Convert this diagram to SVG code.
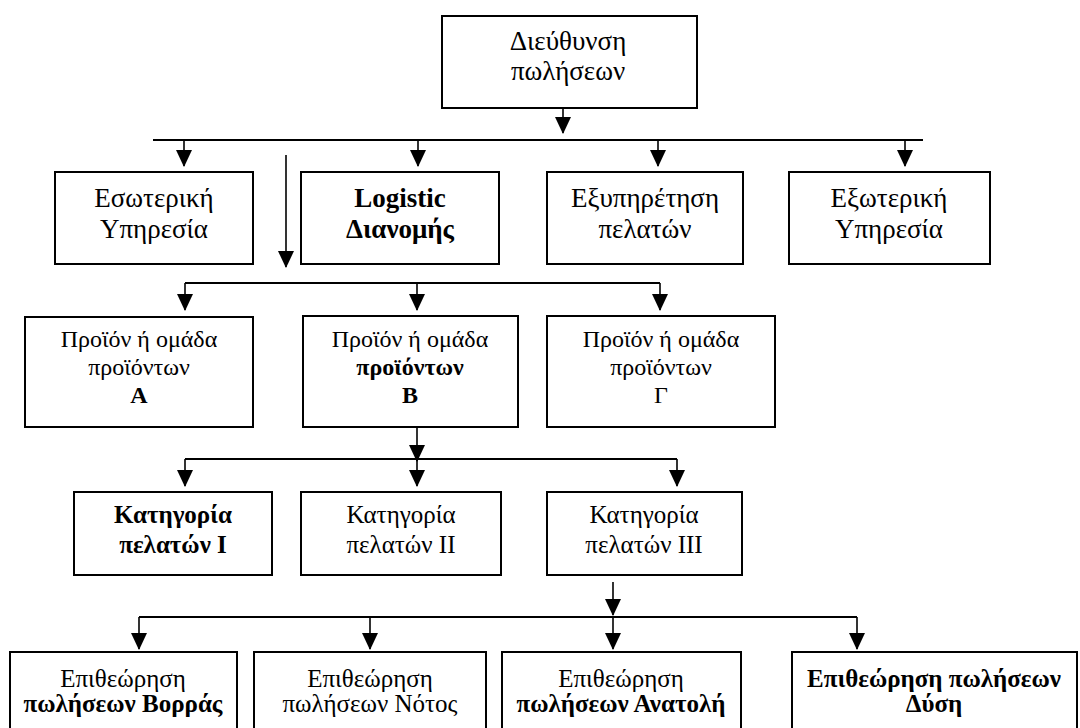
<svg xmlns="http://www.w3.org/2000/svg" width="1080" height="728" viewBox="0 0 1080 728">
<style>
.box{fill:#fff;stroke:#000;stroke-width:2}
.t{font-family:"Liberation Serif","DejaVu Serif",serif;fill:#000;text-anchor:middle}
.s27{font-size:27px}.s25{font-size:25px}.s24{font-size:24px}
.b{font-weight:bold}
.ln{fill:none;stroke:#000;stroke-width:1.8}
.ar{fill:none;stroke:#000;stroke-width:1.6;marker-end:url(#ah)}
</style>
<defs>
<marker id="ah" markerUnits="userSpaceOnUse" markerWidth="17" markerHeight="16" viewBox="0 0 17 16" refX="16" refY="8" orient="auto">
<path d="M0,0 L17,8 L0,16 z" fill="#000"/>
</marker>
</defs>
<rect width="1080" height="728" fill="#fff"/>
<g id="connectors">
<line class="ar" x1="563" y1="108" x2="563" y2="133"/>
<line class="ln" x1="153" y1="140" x2="923" y2="140"/>
<line class="ar" x1="184" y1="140" x2="184" y2="166"/>
<line class="ar" x1="418" y1="140" x2="418" y2="166"/>
<line class="ar" x1="658" y1="140" x2="658" y2="166"/>
<line class="ar" x1="905" y1="140" x2="905" y2="166"/>
<line class="ar" x1="286" y1="155" x2="286" y2="267"/>
<line class="ln" x1="185" y1="283" x2="660" y2="283"/>
<line class="ar" x1="185" y1="283" x2="185" y2="310"/>
<line class="ar" x1="417" y1="283" x2="417" y2="310"/>
<line class="ar" x1="660" y1="283" x2="660" y2="310"/>
<line class="ar" x1="417" y1="427" x2="417" y2="461"/>
<line class="ln" x1="185" y1="459" x2="677" y2="459"/>
<line class="ar" x1="185" y1="459" x2="185" y2="486"/>
<line class="ar" x1="417" y1="459" x2="417" y2="486"/>
<line class="ar" x1="677" y1="459" x2="677" y2="486"/>
<line class="ar" x1="613" y1="582" x2="613" y2="615"/>
<line class="ln" x1="139" y1="617" x2="857" y2="617"/>
<line class="ar" x1="139" y1="617" x2="139" y2="649"/>
<line class="ar" x1="370" y1="617" x2="370" y2="649"/>
<line class="ar" x1="613" y1="617" x2="613" y2="649"/>
<line class="ar" x1="857" y1="617" x2="857" y2="649"/>
</g>
<g id="n-top">
<rect class="box" x="442" y="16" width="255" height="92"/>
<text class="t s27" x="568" y="50">Διεύθυνση</text>
<text class="t s27" x="568" y="80">πωλήσεων</text>
</g>
<g id="n-eso">
<rect class="box" x="55" y="172" width="198" height="92"/>
<text class="t s27" x="154" y="207">Εσωτερική</text>
<text class="t s27" x="154" y="238">Υπηρεσία</text>
</g>
<g id="n-log">
<rect class="box" x="301" y="172" width="198" height="92"/>
<text class="t s27 b" x="400" y="207">Logistic</text>
<text class="t s27 b" x="400" y="238">Διανομής</text>
</g>
<g id="n-exy">
<rect class="box" x="547" y="172" width="196" height="92"/>
<text class="t s27" x="645" y="207">Εξυπηρέτηση</text>
<text class="t s27" x="645" y="238">πελατών</text>
</g>
<g id="n-exo">
<rect class="box" x="789" y="172" width="201" height="92"/>
<text class="t s27" x="889" y="207">Εξωτερική</text>
<text class="t s27" x="889" y="238">Υπηρεσία</text>
</g>
<g id="n-pA">
<rect class="box" x="25" y="317" width="228" height="110"/>
<text class="t s24" x="139" y="347">Προϊόν ή ομάδα</text>
<text class="t s24" x="139" y="375">προϊόντων</text>
<text class="t s24 b" x="139" y="403">A</text>
</g>
<g id="n-pB">
<rect class="box" x="303" y="316" width="215" height="111"/>
<text class="t s24" x="410" y="347">Προϊόν ή ομάδα</text>
<text class="t s24 b" x="410" y="375">προϊόντων</text>
<text class="t s24 b" x="410" y="403">B</text>
</g>
<g id="n-pG">
<rect class="box" x="547" y="316" width="228" height="111"/>
<text class="t s24" x="661" y="347">Προϊόν ή ομάδα</text>
<text class="t s24" x="661" y="375">προϊόντων</text>
<text class="t s24" x="661" y="403">Γ</text>
</g>
<g id="n-k1">
<rect class="box" x="74" y="492" width="198" height="83"/>
<text class="t s25 b" x="173" y="523">Κατηγορία</text>
<text class="t s25 b" x="173" y="553">πελατών I</text>
</g>
<g id="n-k2">
<rect class="box" x="301" y="492" width="200" height="83"/>
<text class="t s25" x="401" y="523">Κατηγορία</text>
<text class="t s25" x="401" y="553">πελατών II</text>
</g>
<g id="n-k3">
<rect class="box" x="547" y="492" width="195" height="83"/>
<text class="t s25" x="644" y="523">Κατηγορία</text>
<text class="t s25" x="644" y="553">πελατών III</text>
</g>
<g id="n-e1">
<rect class="box" x="10" y="652" width="227" height="90"/>
<text class="t s25" x="123" y="687">Επιθεώρηση</text>
<text class="t s25 b" x="123" y="712">πωλήσεων Βορράς</text>
</g>
<g id="n-e2">
<rect class="box" x="254" y="652" width="232" height="90"/>
<text class="t s25" x="370" y="687">Επιθεώρηση</text>
<text class="t s25" x="370" y="712">πωλήσεων Νότος</text>
</g>
<g id="n-e3">
<rect class="box" x="502" y="652" width="239" height="90"/>
<text class="t s25" x="621" y="687">Επιθεώρηση</text>
<text class="t s25 b" x="621" y="712">πωλήσεων Ανατολή</text>
</g>
<g id="n-e4">
<rect class="box" x="792" y="652" width="285" height="90"/>
<text class="t s25 b" x="934" y="687">Επιθεώρηση πωλήσεων</text>
<text class="t s25 b" x="934" y="712">Δύση</text>
</g>
</svg>
